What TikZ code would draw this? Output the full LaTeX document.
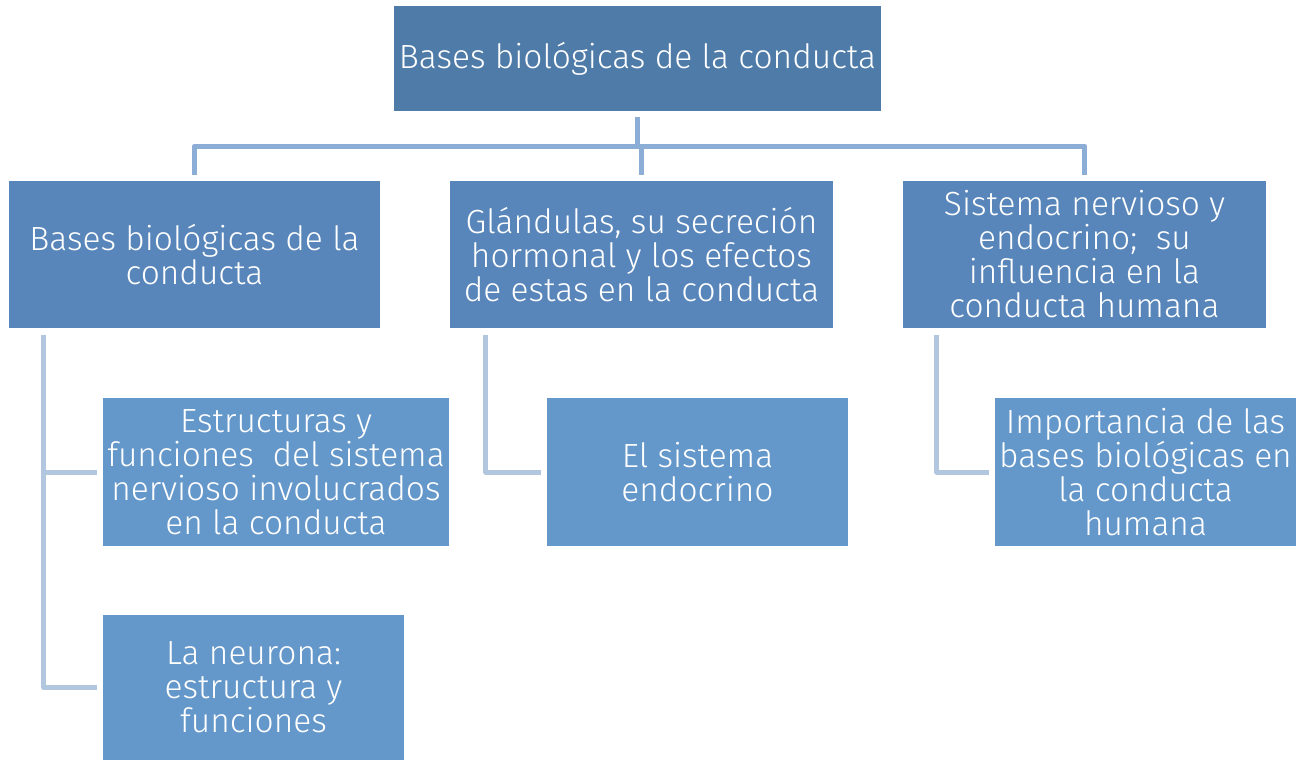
\documentclass[tikz,border=0pt]{standalone}
\usepackage{fontspec}
\setmainfont{Fira Sans Light}[BoldFont=Fira Sans]
\definecolor{topc}{HTML}{4F7BA8}
\definecolor{midc}{HTML}{5886BA}
\definecolor{lowc}{HTML}{6598CA}
\definecolor{lineA}{HTML}{8CADD5}
\definecolor{lineB}{HTML}{B3C6E0}
\begin{document}
\begin{tikzpicture}[x=1pt,y=-1pt,
  box/.style={rectangle,inner sep=0pt,text=white,align=center,
    font=\fontsize{33.5}{34}\selectfont},
  lone/.style={draw=lineA,line width=5pt,line join=round},
  ltwo/.style={draw=lineB,line width=5pt,line join=round}]
\useasboundingbox[fill=white] (0,0) rectangle (1309,760);
\node[box,fill=topc,minimum width=487pt,minimum height=105pt] (top) at (637.5,58.5) {Bases biológicas de la conducta};
\node[box,fill=midc,minimum width=371pt,minimum height=147pt] (b1) at (194.5,254.5) {Bases biológicas de la\\conducta};
\node[box,fill=midc,minimum width=383pt,minimum height=147pt] (b2) at (641.5,254.5) {Glándulas, su secreción\\hormonal y los efectos\\de estas en la conducta};
\node[box,fill=midc,minimum width=363pt,minimum height=147pt] (b3) at (1084.5,254.5) {Sistema nervioso y\\endocrino;\ \ su\\influencia en la\\conducta humana};
\node[box,fill=lowc,minimum width=346pt,minimum height=148pt] (c1) at (276,472) {Estructuras y\\funciones\ \ del sistema\\nervioso involucrados\\en la conducta};
\node[box,fill=lowc,minimum width=301pt,minimum height=145pt] (c2) at (253.5,687.5) {La neurona:\\estructura y\\funciones};
\node[box,fill=lowc,minimum width=301pt,minimum height=148pt] (c3) at (697.5,472) {El sistema\\endocrino};
\node[box,fill=lowc,minimum width=301pt,minimum height=148pt] (c4) at (1145.5,472) {Importancia de las\\bases biológicas en\\la conducta\\humana};
\coordinate (j) at (637,146);
\draw[lone] ([yshift=-6pt]top.south) -- (top.south |- j);
\draw[lone] ([yshift=6pt]b1.north) -- (b1.north |- j) -- (b3.north |- j) -- ([yshift=6pt]b3.north);
\draw[lone] ([yshift=6pt]b2.north) -- (b2.north |- j);
\draw[ltwo] ([xshift=35pt,yshift=-7pt]b1.south west) |- ([xshift=-6pt]c1.west);
\draw[ltwo] ([xshift=35pt,yshift=-7pt]b1.south west) |- ([xshift=-6pt]c2.west);
\draw[ltwo] ([xshift=36pt,yshift=-7pt]b2.south west) |- ([xshift=-6pt]c3.west);
\draw[ltwo] ([xshift=34pt,yshift=-7pt]b3.south west) |- ([xshift=-6pt]c4.west);
\end{tikzpicture}
\end{document}
